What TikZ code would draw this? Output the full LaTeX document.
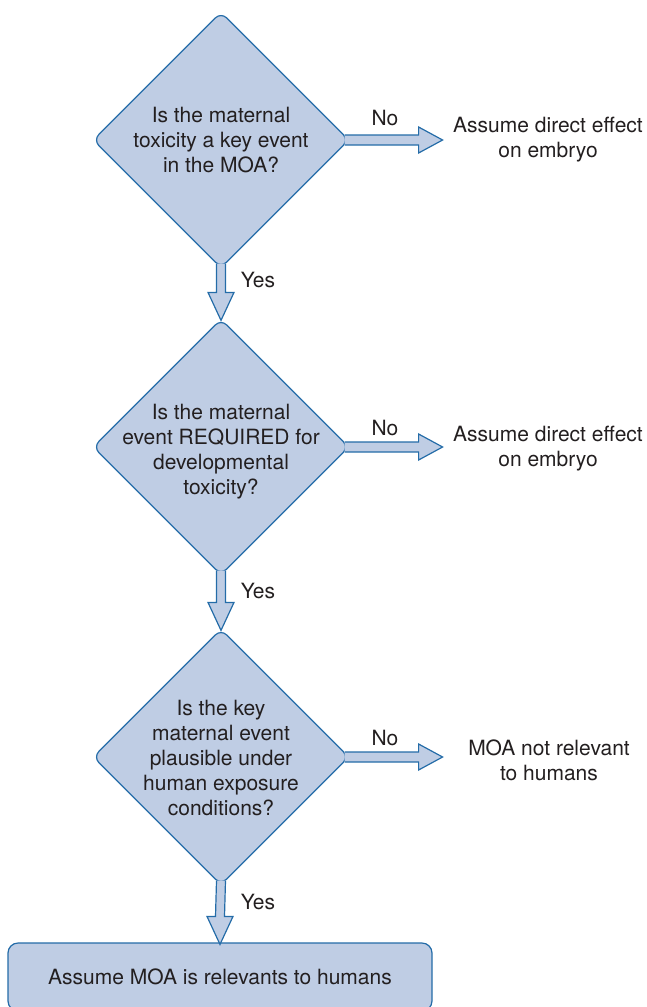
\documentclass[tikz,border=0pt]{standalone}
\usepackage{fontspec}
\setmainfont{TeX Gyre Heros}
\usetikzlibrary{shapes.geometric,calc}

\definecolor{boxfill}{RGB}{191,205,228}
\definecolor{boxline}{RGB}{36,108,168}
\definecolor{inktext}{RGB}{35,31,32}

\begin{document}
\begin{tikzpicture}
    [x = .5pt, y = -.5pt,
     every node/.style = {text = inktext, align = center,
       font = \fontsize{10.5pt}{12.5pt}\selectfont},
     decision/.style = {diamond, draw = boxline, fill = boxfill, line width = .6pt,
       rounded corners = 4pt, minimum width = 128pt, minimum height = 128pt, inner sep = 0pt},
     answer/.style = {rectangle, draw = boxline, fill = boxfill, line width = .6pt,
       rounded corners = 5pt, minimum width = 212pt, minimum height = 34pt},
     fat/.style = {draw = boxline, fill = boxfill, line width = .6pt, line join = miter}]
    \useasboundingbox (0,0) rectangle (647,1007);
    \clip (0,0) rectangle (647,1007);

    % questions
    \node[decision] (q1) at (221,140) {};
    \node[decision] (q2) at (221,447) {};
    \node[decision] (q3) at (221,757) {};
    \node (q1t) at (221,140) {Is the maternal\\toxicity a key event\\in the MOA?};
    \node (q2t) at (221,452) {Is the maternal\\event REQUIRED for\\developmental\\toxicity?};
    \node (q3t) at (221,758) {Is the key\\maternal event\\plausible under\\human exposure\\conditions?};

    % final answer
    \node[answer] (ans) at (220,977) {Assume MOA is relevants to humans};

    % outcomes on the right
    \node (r1) at (548,140) {Assume direct effect\\on embryo};
    \node (r2) at (548,449) {Assume direct effect\\on embryo};
    \node (r3) at (549,760) {MOA not relevant\\to humans};

    \node (no1) at (385,118) {No};
    \node (no2) at (385,428) {No};
    \node (no3) at (385,738) {No};
    \node (yes1) at (258,280) {Yes};
    \node (yes2) at (258,591) {Yes};
    \node (yes3) at (258,902) {Yes};

    % block arrows down
    \foreach \from/ \to in {q1/q2,q2/q3,q3/ans}
      \filldraw[fat] ($(\from.south)+(-4.5,-5)$) -- ($(\to.north)+(-4.5,-26)$) -- ++(-8.5,0)
        -- ($(\to.north)+(0,2)$) -- ($(\to.north)+(13,-26)$) -- ++(-8.5,0)
        -- ($(\from.south)+(4.5,-5)$);

    % block arrows right
    \foreach \q in {q1,q2,q3}
      \filldraw[fat] ($(\q.east)+(-5,-5)$) -- ($(\q.east)+(69,-5)$) -- ++(0,-8)
        -- ($(\q.east)+(93,0)$) -- ($(\q.east)+(69,13)$) -- ++(0,-8)
        -- ($(\q.east)+(-5,5)$);
  \end{tikzpicture}
\end{document}
